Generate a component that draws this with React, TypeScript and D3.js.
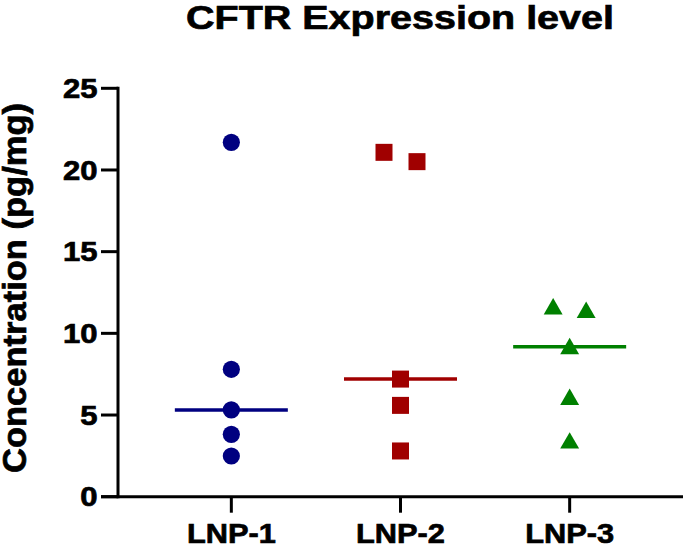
import React from "react";
import * as d3 from "d3";

const categories = ["LNP-1", "LNP-2", "LNP-3"];
const lnp1Values = [21.69, 7.8, 5.31, 3.82, 2.49];
const lnp2Values = [21.08, 20.51, 7.2, 5.59, 2.8];
const lnp3Values = [11.61, 11.4, 9.18, 6.07, 3.4];
const seriesValues = [lnp1Values, lnp2Values, lnp3Values];
const seriesColors = ["#000080", "#A00000", "#008000"];
const seriesShapes = ["circle", "square", "triangle"];
const yTicks = [0, 5, 10, 15, 20, 25];
const title = "CFTR Expression level";
const yLabel = "Concentration (pg/mg)";

const W = 685;
const H = 547;
const axisX = 118;
const axisRight = 683;
const y0 = 496.7;
const y25 = 88.3;
const markerSize = 17;

export default function App() {
  const x = d3.scalePoint<string>().domain(categories).range([axisX, axisRight]).padding(0.67);
  const y = d3.scaleLinear().domain([0, 25]).range([y0, y25]);
  const sym = {
    circle: d3.symbol().type(d3.symbolCircle).size(Math.PI * 8.6 * 8.6),
    square: d3.symbol().type(d3.symbolSquare).size(markerSize * markerSize),
    triangle: d3.symbol().type(d3.symbolTriangle).size(155),
  } as Record<string, any>;

  const dodge = (vals: number[]) => {
    const sorted = vals.map((v, i) => ({ v, i })).sort((a, b) => b.v - a.v);
    const offs = new Array(vals.length).fill(0);
    let cluster: { v: number; i: number }[] = [];
    const flush = () => {
      const n = cluster.length;
      cluster.forEach((p, k) => (offs[p.i] = (k - (n - 1) / 2) * 33));
      cluster = [];
    };
    sorted.forEach((p) => {
      if (cluster.length && Math.abs(y(cluster[cluster.length - 1].v) - y(p.v)) >= markerSize) flush();
      cluster.push(p);
    });
    flush();
    return offs;
  };

  const font = "'Liberation Sans', Arial, Helvetica, sans-serif";
  const heavy = { stroke: "#000", strokeWidth: 0.7 };

  return (
    <svg width={W} height={H} style={{ position: "absolute", left: 0, top: 0, background: "#fff" }}>
      <text x={400} y={28.5} textAnchor="middle" fontFamily={font} fontWeight="bold" fontSize={33.5}
        textLength={428} lengthAdjust="spacingAndGlyphs" {...heavy}>{title}</text>
      <text transform={`translate(26,288) rotate(-90)`} textAnchor="middle" fontFamily={font} fontWeight="bold"
        fontSize={32.5} textLength={370} lengthAdjust="spacingAndGlyphs" {...heavy}>{yLabel}</text>
      {/* y axis */}
      <line x1={axisX} x2={axisX} y1={y(25) - 1.5} y2={y(0) + 1.5} stroke="#000" strokeWidth={3} />
      {yTicks.map((t) => (
        <g key={t}>
          <line x1={axisX - 17} x2={axisX} y1={y(t)} y2={y(t)} stroke="#000" strokeWidth={3} />
          <g transform={`translate(97.5,${y(t)}) scale(1.15,1)`}>
            <text x={0} y={0} dy="0.36em" textAnchor="end" fontFamily={font} fontWeight="bold" fontSize={27} {...heavy}>{t}</text>
          </g>
        </g>
      ))}
      {/* x axis */}
      <line x1={axisX - 17} x2={axisRight} y1={y(0)} y2={y(0)} stroke="#000" strokeWidth={3} />
      {categories.map((c) => (
        <g key={c}>
          <line x1={x(c)} x2={x(c)} y1={y(0)} y2={y(0) + 16} stroke="#000" strokeWidth={3} />
          <g transform={`translate(${x(c)},543) scale(1.08,1)`}>
            <text x={0} y={0} textAnchor="middle" fontFamily={font} fontWeight="bold" fontSize={28.5} {...heavy}>{c}</text>
          </g>
        </g>
      ))}
      {/* points and medians */}
      {seriesValues.map((vals, si) => {
        const cx = x(categories[si]) as number;
        const offs = dodge(vals);
        const med = d3.median(vals) as number;
        const shape = seriesShapes[si];
        return (
          <g key={si} fill={seriesColors[si]}>
            {vals.map((v, i) => (
              <path key={i} d={sym[shape]()} transform={`translate(${cx + offs[i]},${y(v) + (shape === "triangle" ? 2 : 0)})`} />
            ))}
            <line x1={cx - 56.5} x2={cx + 56.5} y1={y(med)} y2={y(med)} stroke={seriesColors[si]} strokeWidth={3.5} />
          </g>
        );
      })}
    </svg>
  );
}
